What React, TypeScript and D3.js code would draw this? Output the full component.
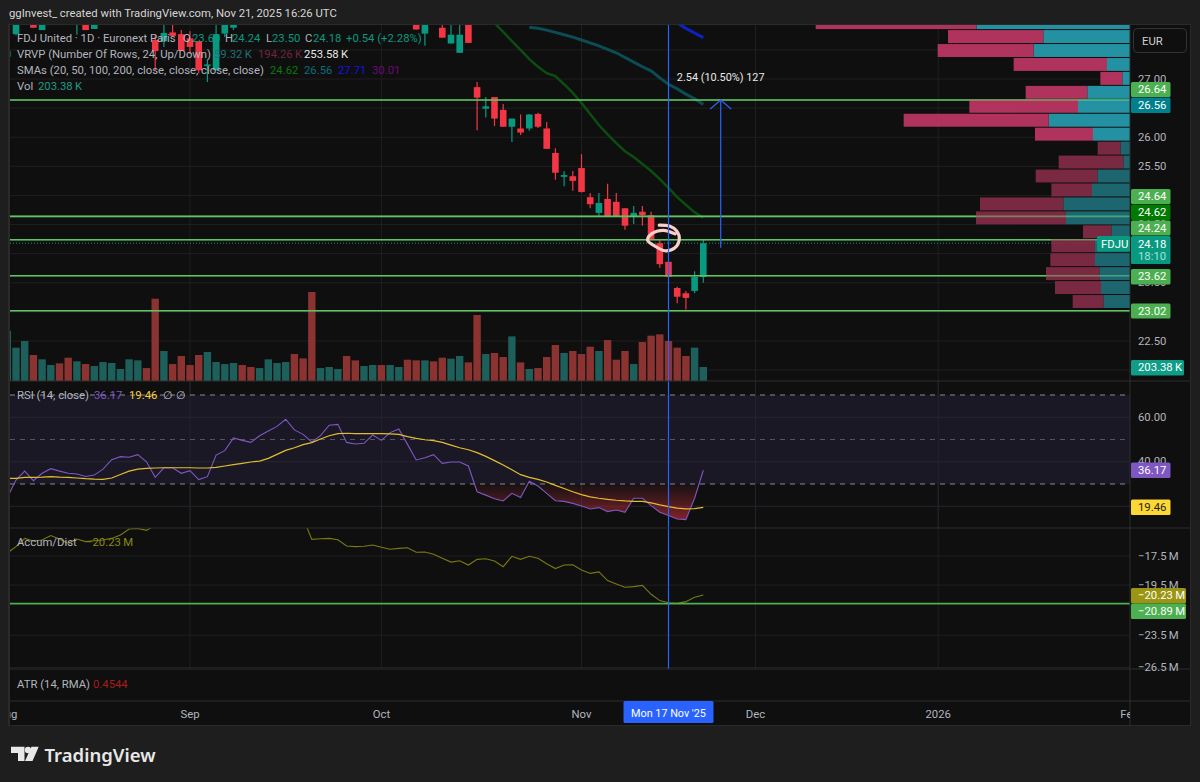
import React from 'react';
import * as d3 from 'd3';

const FONT = 'Roboto, "Noto Sans", sans-serif';

// bars are counted from 1 Aug 2025 (index 0), weekdays only
const LAST_BAR = 80;
const monthTicks = [0, 21, 43, 66, 86, 107, 129];
const monthLabels = ['Aug', 'Sep', 'Oct', 'Nov', 'Dec', '2026', 'Feb'];
const crosshairBar = 76;
const crosshairLabel = "Mon 17 Nov '25";

// only candles that reach into the visible part of the pane
const candleBars = [0, 1, 3, 4, 8, 9, 10, 17, 18, 19, 20, 21, 22, 23, 24, 25, 26, 47, 48, 50, 51, 52, 53, 54, 55, 56, 57, 58, 59, 60, 61, 62, 63, 64, 65, 66, 67, 68, 69, 70, 71, 72, 73, 74, 75, 76, 77, 78, 79, 80];
const opens = [27.38, 27.77, 28.1, 27.84, 28.0, 28.1, 27.86, 27.67, 27.65, 27.8, 27.77, 27.7, 27.65, 27.23, 27.15, 27.78, 27.88, 28.1, 27.78, 27.88, 27.61, 27.45, 28.0, 26.86, 26.49, 26.69, 26.47, 26.18, 26.15, 26.15, 26.4, 26.15, 25.73, 25.32, 25.33, 25.47, 24.97, 24.7, 24.94, 24.89, 24.78, 24.63, 24.72, 24.66, 24.18, 23.86, 23.41, 23.32, 23.36, 23.6];
const highs = [27.52, 28.2, 28.2, 28.1, 28.2, 28.2, 28.2, 27.75, 28.0, 27.95, 27.84, 27.82, 27.65, 27.34, 27.95, 28.2, 28.2, 28.2, 28.2, 28.0, 28.0, 28.0, 28.1, 26.95, 26.69, 26.69, 26.57, 26.32, 26.39, 26.4, 26.42, 26.26, 25.81, 25.42, 25.42, 25.71, 25.04, 25.04, 25.2, 25.04, 24.78, 24.82, 24.82, 24.72, 24.25, 23.86, 23.43, 23.36, 23.7, 24.24];
const lows = [27.36, 27.75, 27.88, 27.84, 27.76, 27.84, 27.86, 27.15, 27.55, 27.74, 27.48, 27.43, 27.1, 26.95, 27.15, 27.72, 27.84, 27.85, 27.57, 27.71, 27.61, 27.45, 27.62, 26.12, 26.34, 26.19, 26.18, 25.92, 26.04, 26.11, 26.16, 25.8, 25.27, 25.16, 25.08, 25.05, 24.78, 24.64, 24.63, 24.63, 24.41, 24.51, 24.48, 24.25, 23.76, 23.59, 23.15, 23.04, 23.32, 23.5];
const closes = [27.48, 28.1, 27.88, 28.1, 28.1, 27.84, 28.1, 27.48, 27.79, 27.74, 27.48, 27.55, 27.15, 27.25, 27.77, 28.1, 28.1, 27.85, 28.1, 27.71, 27.76, 27.76, 27.62, 26.68, 26.53, 26.32, 26.18, 26.32, 26.08, 26.39, 26.18, 25.8, 25.39, 25.35, 25.25, 25.06, 24.85, 24.87, 24.63, 24.64, 24.48, 24.7, 24.66, 24.25, 23.82, 23.6, 23.26, 23.24, 23.6, 24.18];

// volume in thousands, every bar
const volumes = [725, 483, 580, 377, 314, 232, 256, 338, 285, 246, 217, 275, 261, 174, 314, 299, 188, 1193, 435, 246, 362, 232, 377, 420, 275, 246, 261, 232, 203, 188, 314, 261, 275, 391, 328, 1290, 188, 203, 174, 362, 299, 217, 232, 232, 232, 203, 309, 299, 299, 285, 338, 324, 362, 270, 956, 391, 406, 348, 647, 270, 174, 188, 348, 522, 406, 435, 391, 497, 435, 594, 309, 435, 246, 565, 657, 676, 580, 483, 362, 483, 203.38];
const volumeUp = [1, 1, 1, 0, 1, 1, 0, 0, 1, 0, 1, 1, 1, 1, 1, 1, 0, 0, 1, 0, 0, 0, 0, 1, 1, 1, 1, 0, 0, 1, 1, 1, 1, 0, 0, 0, 1, 1, 1, 0, 0, 1, 1, 0, 1, 1, 0, 0, 1, 0, 0, 1, 1, 0, 0, 1, 0, 0, 1, 0, 1, 0, 0, 0, 1, 0, 0, 0, 1, 0, 0, 0, 1, 0, 0, 0, 0, 0, 0, 1, 1];

const sma20Start = 56;
const sma20 = [27.96, 27.81, 27.65, 27.5, 27.34, 27.21, 27.1, 27.05, 26.91, 26.76, 26.59, 26.4, 26.21, 26.05, 25.9, 25.76, 25.66, 25.54, 25.42, 25.28, 25.13, 24.97, 24.84, 24.71, 24.62];
const sma50Start = 60;
const sma50 = [27.89, 27.87, 27.84, 27.8, 27.76, 27.72, 27.67, 27.62, 27.57, 27.51, 27.45, 27.37, 27.29, 27.21, 27.14, 27.02, 26.91, 26.83, 26.74, 26.66, 26.56];
const sma100Start = 77;
const sma100 = [27.96, 27.87, 27.79, 27.71];

const levelLines = [26.64, 24.64, 24.24, 23.62, 23.02];
const lastClose = 24.18;
const priceTicks = [27.5, 27, 26.5, 26, 25.5, 25, 24.5, 24, 23.5, 23, 22.5, 22];

// visible range profile, top row first, widths as read
const profileLow = 23.05;
const profileStep = 0.2395;
const profileValueAreaRows = 9;
const profileUp = [460, 260, 289, 69, 23, 128, 156, 244, 111, 28, 20, 98, 114, 200, 192, 56, 105, 105, 92, 87, 80];
const profileDown = [483, 286, 288, 280, 66, 185, 326, 435, 174, 69, 194, 185, 122, 250, 270, 85, 131, 134, 160, 138, 92];

const measureBar = 82;
const measureFrom = 24.1;
const measureTo = 26.64;
const measureLabel = '2.54 (10.50%) 127';

// the hand drawn circle around the breakdown candle
const circleBars = [74.94, 76.17, 76.94, 77.24, 76.74, 75.6, 74.44, 73.6, 74.06, 75.4, 76.74];
const circlePrices = [24.49, 24.47, 24.39, 24.25, 24.1, 24.05, 24.13, 24.23, 24.34, 24.4, 24.34];

const rsi = [24, 31.8, 35.8, 31.5, 34.8, 36.9, 35.8, 34.8, 34.5, 33.4, 34.0, 36.7, 40.9, 42.3, 42.0, 43.2, 40.0, 33.0, 37.3, 37.3, 34.8, 36.0, 32.0, 33.3, 43.0, 45.0, 50.7, 49.6, 48.7, 51.7, 53.8, 55.9, 59.1, 54.3, 52.3, 48.9, 51.7, 56.4, 56.8, 48.7, 48.0, 48.3, 52.0, 49.6, 53.1, 54.7, 47.8, 40.8, 41.8, 43.2, 39.3, 39.9, 39.9, 38.1, 26.5, 25.0, 23.4, 22.4, 25.8, 23.9, 31.2, 29.1, 25.8, 22.5, 22.2, 21.3, 20.1, 18.8, 19.4, 17.6, 18.3, 17.3, 23.6, 23.6, 20.3, 17.3, 15.8, 14.3, 14.0, 23.6, 36.17];
const rsiMa = [32.5, 32.5, 33.0, 33.0, 33.1, 33.3, 33.1, 33.0, 32.7, 32.4, 32.2, 32.1, 32.7, 34.3, 35.8, 36.7, 37.0, 37.2, 37.3, 37.3, 37.3, 37.3, 37.2, 37.2, 37.5, 38.1, 38.7, 39.3, 39.9, 40.3, 41.5, 43.3, 45.1, 46.3, 47.7, 48.6, 50.2, 51.7, 52.6, 52.8, 52.6, 52.6, 52.6, 52.6, 52.5, 52.3, 51.3, 50.5, 49.9, 49.5, 48.7, 47.5, 46.3, 45.4, 44.1, 42.4, 40.5, 38.5, 36.4, 34.2, 33.0, 32.1, 30.9, 29.4, 28.0, 26.5, 25.2, 24.2, 23.6, 23.1, 22.7, 22.4, 22.2, 22.2, 21.5, 20.6, 19.8, 19.2, 18.8, 18.9, 19.46];
const rsiGrid = [60, 40, 20];
const rsiBands = [70, 30];

// accumulation/distribution, millions below zero; bars 17-34 run above the pane
const accDist = [17.3, 16.9, 16.39, 16.55, 16.49, 16.22, 16.43, 16.69, 16.43, 16.59, 16.53, 16.49, 16.39, 16.18, 15.83, 15.79, 15.91, 15.6, 15.4, 15.3, 15.2, 15.1, 15.0, 15.0, 14.9, 14.9, 14.8, 14.8, 14.9, 14.9, 15.0, 15.0, 15.1, 15.1, 15.2, 16.45, 16.41, 16.39, 16.47, 16.86, 16.9, 16.88, 16.8, 16.94, 17.07, 17.01, 16.97, 17.26, 17.24, 17.39, 17.65, 17.9, 17.81, 18.1, 17.72, 17.68, 17.83, 18.21, 17.52, 17.72, 17.52, 17.65, 18.01, 18.34, 18.1, 18.08, 18.44, 18.67, 18.57, 19.18, 19.42, 19.66, 19.61, 19.52, 20.18, 20.66, 20.82, 20.87, 20.74, 20.4, 20.23];
const accDistTicks = [17.5, 19.5, 23.5, 26.5];
const accDistLevel = 20.89;

const LEFT = 10;
const AXIS_X = 1130;
const RIGHT = 1190;
const PANE_TOP = 25;
const MAIN_BOTTOM = 381;
const RSI_BOTTOM = 528;
const AD_BOTTOM = 669;
const ATR_BOTTOM = 701;
const FRAME_BOTTOM = 725;

const COLORS = {
  page: '#1e1e1e',
  pane: '#0f0f0f',
  grid: '#1f1f1f',
  sep: '#2e2e2e',
  text: '#b2b5be',
  up: '#089981',
  down: '#f23645',
  level: '#4caf50',
  cross: '#2962ff',
};

const x = d3.scaleLinear().domain([0, LAST_BAR]).range([7.3, 703.3]);
const yPrice = d3.scaleLinear().domain([27, 22.5]).range([79, 341]);
const yVol = d3.scaleLinear().domain([0, 1290]).range([MAIN_BOTTOM, MAIN_BOTTOM - 89]);
const yRsi = d3.scaleLinear().domain([70, 30]).range([395, 484]);
const yAd = d3.scaleLog().domain([17.5, 26.5]).range([556, 667.5]);
const profileW = d3.scaleLinear().domain([0, 1]).range([0, 1 / 3]);

const priceLine = (start: number, values: number[]) =>
  d3.line<number>().x((_, i) => x(start + i)).y((d) => yPrice(d))(values) || '';

const rsiPath = (values: number[]) =>
  d3.line<number>().x((_, i) => x(i)).y((d) => yRsi(d))(values) || '';

const oversoldArea =
  d3.area<number>().x((_, i) => x(i)).y0(yRsi(30)).y1((d) => yRsi(d))(rsi) || '';

const adPath = d3.line<number>().x((_, i) => x(i)).y((d) => yAd(d))(accDist) || '';

const circlePath =
  d3.line<number>()
    .x((d) => x(d))
    .y((_, i) => yPrice(circlePrices[i]))
    .curve(d3.curveCatmullRom)(circleBars) || '';

function Label(props: { x: number; y: number; fill?: string; size?: number; anchor?: string; weight?: number; children: React.ReactNode }) {
  return (
    <text
      x={props.x}
      y={props.y}
      fill={props.fill || COLORS.text}
      fontSize={props.size || 11.3}
      textAnchor={props.anchor as any}
      fontWeight={props.weight}
      dominantBaseline="central"
    >
      {props.children}
    </text>
  );
}

function Tag(props: { top: number; bottom: number; width?: number; fill: string; text: string; color?: string }) {
  return (
    <g>
      <rect x={1131} y={props.top} width={props.width || 39.5} height={props.bottom - props.top} rx={1.5} fill={props.fill} />
      <Label x={1138} y={(props.top + props.bottom) / 2} fill={props.color || '#fff'}>
        {props.text}
      </Label>
    </g>
  );
}

export default function App() {
  const levels = levelLines.map((p) => yPrice(p));
  return (
    <>
      <style>{'body{margin:0;background:#1e1e1e}'}</style>
      <svg width={1200} height={782} style={{ display: 'block', fontFamily: FONT }}>
        <defs>
          <clipPath id="main"><rect x={LEFT} y={PANE_TOP} width={AXIS_X - LEFT} height={MAIN_BOTTOM - PANE_TOP} /></clipPath>
          <clipPath id="rsi"><rect x={LEFT} y={MAIN_BOTTOM} width={AXIS_X - LEFT} height={RSI_BOTTOM - MAIN_BOTTOM} /></clipPath>
          <clipPath id="oversold"><rect x={LEFT} y={yRsi(30)} width={AXIS_X - LEFT} height={RSI_BOTTOM - yRsi(30)} /></clipPath>
          <clipPath id="ad"><rect x={LEFT} y={RSI_BOTTOM} width={AXIS_X - LEFT} height={AD_BOTTOM - RSI_BOTTOM} /></clipPath>
          <clipPath id="time"><rect x={LEFT} y={ATR_BOTTOM} width={AXIS_X - LEFT} height={FRAME_BOTTOM - ATR_BOTTOM} /></clipPath>
          <linearGradient id="oversoldFill" gradientUnits="userSpaceOnUse" x1={0} x2={0} y1={yRsi(30)} y2={yRsi(10)}>
            <stop offset="0" stopColor="#8a2a33" stopOpacity={0.08} />
            <stop offset="1" stopColor="#a3252f" stopOpacity={1} />
          </linearGradient>
        </defs>

        <rect width={1200} height={782} fill={COLORS.page} />
        <rect x={8} y={PANE_TOP - 1} width={RIGHT - 7} height={FRAME_BOTTOM - PANE_TOP + 2} fill="#2a2a2a" />
        <rect x={LEFT} y={PANE_TOP} width={RIGHT - LEFT} height={FRAME_BOTTOM - PANE_TOP} fill={COLORS.pane} />

        <Label x={9} y={13} fill="#d6d6d6">ggInvest_ created with TradingView.com, Nov 21, 2025 16:26 UTC</Label>

        {/* grid */}
        {monthTicks.slice(1, 6).map((b) => (
          <line key={b} x1={x(b)} x2={x(b)} y1={PANE_TOP} y2={AD_BOTTOM} stroke={COLORS.grid} />
        ))}
        {priceTicks.map((p) => (
          <line key={p} x1={LEFT} x2={AXIS_X} y1={yPrice(p)} y2={yPrice(p)} stroke={COLORS.grid} />
        ))}

        {/* main pane */}
        <g clipPath="url(#main)">
          {volumes.map((v, i) => (
            <rect
              key={i}
              x={x(i) - 3.7}
              y={yVol(v)}
              width={7.4}
              height={MAIN_BOTTOM - yVol(v)}
              fill={volumeUp[i] ? '#1d5f5a' : '#8a3331'}
            />
          ))}
          <path d={priceLine(sma20Start, sma20)} fill="none" stroke="#0c4d10" strokeWidth={2.5} />
          <path d={priceLine(sma50Start, sma50)} fill="none" stroke="#0c4c54" strokeWidth={3} />
          <path d={priceLine(sma100Start, sma100)} fill="none" stroke="#0b22c4" strokeWidth={3} />
          {candleBars.map((b, i) => {
            const up = closes[i] >= opens[i];
            const c = up ? COLORS.up : COLORS.down;
            const top = yPrice(Math.max(opens[i], closes[i]));
            const bottom = yPrice(Math.min(opens[i], closes[i]));
            return (
              <g key={b}>
                <line x1={x(b)} x2={x(b)} y1={yPrice(highs[i])} y2={yPrice(lows[i])} stroke={c} strokeWidth={1.2} />
                <rect x={x(b) - 3.3} y={top} width={6.6} height={Math.max(bottom - top, 1.5)} fill={c} />
              </g>
            );
          })}
          {levels.map((y) => (
            <line key={y} x1={LEFT} x2={AXIS_X} y1={y} y2={y} stroke={COLORS.level} strokeWidth={1.6} />
          ))}
          <line x1={LEFT} x2={AXIS_X} y1={yPrice(lastClose)} y2={yPrice(lastClose)} stroke={COLORS.up} strokeDasharray="1 2" />
          {profileUp.map((u, i) => {
            const top = yPrice(profileLow + profileStep * (profileUp.length - i));
            const h = yPrice(profileLow + profileStep * (profileUp.length - i - 1)) - top - 1;
            const bright = i < profileValueAreaRows;
            const uw = profileW(u);
            const dw = profileW(profileDown[i]);
            return (
              <g key={i} opacity={0.85}>
                <rect x={AXIS_X - uw} y={top} width={uw} height={h} fill={bright ? '#27a8bc' : '#207680'} />
                <rect x={AXIS_X - uw - dw} y={top} width={dw} height={h} fill={bright ? '#cb3a6a' : '#8c2e4a'} />
              </g>
            );
          })}
          {levels.map((y) => (
            <line key={y} x1={LEFT} x2={AXIS_X} y1={y} y2={y} stroke="#7fdc84" strokeOpacity={0.4} strokeWidth={1.6} />
          ))}
          <path d={circlePath} fill="none" stroke="#f9cfca" strokeWidth={3.2} strokeLinecap="round" />
          <line x1={x(measureBar)} x2={x(measureBar)} y1={yPrice(measureFrom)} y2={yPrice(measureTo)} stroke={COLORS.cross} strokeWidth={1.2} />
          <path
            d={`M${x(measureBar) - 10.5},${yPrice(measureTo) + 9}L${x(measureBar)},${yPrice(measureTo)}L${x(measureBar) + 10.5},${yPrice(measureTo) + 9}`}
            fill="none"
            stroke={COLORS.cross}
            strokeWidth={1.2}
          />
        </g>
        <Label x={x(measureBar)} y={77} fill="#e8e8e8" size={10.9} anchor="middle">{measureLabel}</Label>

        {/* legend of the main pane */}
        <g>
          <Label x={17} y={38}>FDJ United · 1D · Euronext Paris</Label>
          <Label x={183} y={38}>O</Label>
          <Label x={192} y={38} fill={COLORS.up}>23.60</Label>
          <Label x={225} y={38}>H</Label>
          <Label x={232} y={38} fill={COLORS.up}>24.24</Label>
          <Label x={266} y={38}>L</Label>
          <Label x={272} y={38} fill={COLORS.up}>23.50</Label>
          <Label x={305} y={38}>C</Label>
          <Label x={313} y={38} fill={COLORS.up}>24.18</Label>
          <Label x={346} y={38} fill={COLORS.up}>+0.54 (+2.28%)</Label>
          <Label x={17} y={54}>VRVP (Number Of Rows, 24, Up/Down)</Label>
          <Label x={214} y={54} fill="#1f6f7a">59.32{'\u2009'}K</Label>
          <Label x={258} y={54} fill="#6e2540">194.26{'\u2009'}K</Label>
          <Label x={304} y={54} fill="#e8e8e8">253.58{'\u2009'}K</Label>
          <Label x={17} y={70}>SMAs (20, 50, 100, 200, close, close, close, close)</Label>
          <Label x={270} y={70} fill="#0a7a0a">24.62</Label>
          <Label x={304} y={70} fill="#0a6f7a">26.56</Label>
          <Label x={338} y={70} fill="#1414e0">27.71</Label>
          <Label x={372} y={70} fill="#6a0a7a">30.01</Label>
          <Label x={17} y={86}>Vol</Label>
          <Label x={38} y={86} fill="#1f9a85">203.38{'\u2009'}K</Label>
        </g>

        {/* RSI pane */}
        <g clipPath="url(#rsi)">
          <rect x={LEFT} y={yRsi(70)} width={AXIS_X - LEFT} height={yRsi(30) - yRsi(70)} fill="#1a1825" />
          {rsiGrid.map((v) => (
            <line key={v} x1={LEFT} x2={AXIS_X} y1={yRsi(v)} y2={yRsi(v)} stroke="#262530" />
          ))}
          {monthTicks.slice(1, 6).map((b) => (
            <line key={b} x1={x(b)} x2={x(b)} y1={MAIN_BOTTOM} y2={RSI_BOTTOM} stroke="#24232d" />
          ))}
          <line x1={LEFT} x2={AXIS_X} y1={yRsi(50)} y2={yRsi(50)} stroke="#55555f" strokeDasharray="5 5" />
          {rsiBands.map((v) => (
            <line key={v} x1={LEFT} x2={AXIS_X} y1={yRsi(v)} y2={yRsi(v)} stroke="#8a8a92" strokeDasharray="5 5" />
          ))}
          <path d={oversoldArea} fill="url(#oversoldFill)" clipPath="url(#oversold)" />
          <path d={rsiPath(rsi)} fill="none" stroke="#7e57c2" strokeWidth={1.1} />
          <path d={rsiPath(rsiMa)} fill="none" stroke="#e3bd2d" strokeWidth={1.2} />
        </g>
        <g>
          <Label x={17} y={395}>RSI (14, close)</Label>
          <Label x={94} y={395} fill="#7e57c2">36.17</Label>
          <Label x={129} y={395} fill="#f7d13a">19.46</Label>
          <Label x={163} y={395}>∅</Label>
          <Label x={176} y={395}>∅</Label>
        </g>

        {/* accumulation/distribution pane */}
        {accDistTicks.map((v) => (
          <line key={v} x1={LEFT} x2={AXIS_X} y1={yAd(v)} y2={yAd(v)} stroke={COLORS.grid} />
        ))}
        <g clipPath="url(#ad)">
          <path d={adPath} fill="none" stroke="#7a7a12" strokeWidth={1.1} />
          <line x1={LEFT} x2={AXIS_X} y1={yAd(accDistLevel)} y2={yAd(accDistLevel)} stroke={COLORS.level} strokeWidth={1.6} />
        </g>
        <Label x={17} y={542}>Accum/Dist</Label>
        <Label x={86} y={542} fill="#8a8a10">−20.23{'\u2009'}M</Label>

        <Label x={17} y={684}>ATR (14, RMA)</Label>
        <Label x={93} y={684} fill="#a51c1c">0.4544</Label>

        {/* crosshair */}
        <line x1={x(crosshairBar)} x2={x(crosshairBar)} y1={PANE_TOP} y2={AD_BOTTOM} stroke={COLORS.cross} strokeWidth={1.2} />

        {/* pane separators and right axis */}
        <rect x={AXIS_X} y={PANE_TOP} width={RIGHT - AXIS_X} height={AD_BOTTOM - PANE_TOP} fill={COLORS.pane} />
        {[MAIN_BOTTOM, RSI_BOTTOM, AD_BOTTOM, ATR_BOTTOM].map((y) => (
          <line key={y} x1={LEFT} x2={RIGHT} y1={y} y2={y} stroke={COLORS.sep} />
        ))}
        <line x1={AXIS_X} x2={AXIS_X} y1={PANE_TOP} y2={FRAME_BOTTOM} stroke={COLORS.sep} />

        {priceTicks.map((p) => (
          <Label key={p} x={1138} y={yPrice(p)}>{d3.format('.2f')(p)}</Label>
        ))}
        {rsiGrid.slice(0, 2).map((v) => (
          <Label key={v} x={1138} y={yRsi(v)}>{d3.format('.2f')(v)}</Label>
        ))}
        {accDistTicks.map((v) => (
          <Label key={v} x={1138} y={yAd(v)}>{`−${d3.format('.1f')(v)}\u2009M`}</Label>
        ))}

        <rect x={1133.5} y={28.5} width={53} height={24} rx={4} fill={COLORS.pane} stroke="#333" />
        <Label x={1142} y={41} fill="#d0d0d0">EUR</Label>

        <Tag top={82} bottom={97} fill="#4caf50" text="26.64" />
        <Tag top={97.5} bottom={113} fill="#00808c" text="26.56" />
        <Tag top={189} bottom={204} fill="#4caf50" text="24.64" />
        <Tag top={204.5} bottom={220} fill="#007a00" text="24.62" />
        <Tag top={220.5} bottom={235.5} fill="#4caf50" text="24.24" />
        <rect x={1097} y={236} width={33} height={15.5} rx={1.5} fill={COLORS.up} />
        <Label x={1101} y={244} fill="#fff">FDJU</Label>
        <rect x={1131} y={236} width={39.5} height={28} rx={1.5} fill={COLORS.up} />
        <Label x={1138} y={244} fill="#fff">24.18</Label>
        <Label x={1138} y={256.5} fill="#a8e0d6">18:10</Label>
        <Tag top={269} bottom={284.5} fill="#4caf50" text="23.62" />
        <Tag top={303.5} bottom={318.5} fill="#4caf50" text="23.02" />
        <Tag top={360} bottom={375.5} width={53} fill="#0f9d88" text={'203.38\u2009K'} />
        <Tag top={462.5} bottom={478} fill="#7e57c2" text="36.17" />
        <Tag top={499.5} bottom={515} fill="#fdd835" text="19.46" color="#222" />
        <Tag top={588} bottom={603.5} width={55} fill="#9a9512" text={'−20.23\u2009M'} />
        <Tag top={603.5} bottom={619} width={55} fill="#4caf50" text={'−20.89\u2009M'} />

        {/* time axis */}
        <g clipPath="url(#time)">
          {monthTicks.map((b, i) => (
            <Label key={b} x={x(b)} y={714} anchor="middle">{monthLabels[i]}</Label>
          ))}
        </g>
        <rect x={x(crosshairBar) - 45} y={701} width={90} height={22} rx={1.5} fill={COLORS.cross} />
        <Label x={x(crosshairBar)} y={713.5} fill="#fff" size={10.8} anchor="middle">{crosshairLabel}</Label>

        {/* logo */}
        <g fill="#e8e8e8">
          <path d="M11,746.7H24.5V761H18V753H11Z" />
          <circle cx={28} cy={750} r={3.2} />
          <path d="M31.5,746.7H38.7L32.5,761H25Z" />
        </g>
        <text x={44.5} y={754} fill="#e8e8e8" fontSize={18.5} fontWeight={600} fontFamily='"Noto Sans", sans-serif' dominantBaseline="central">TradingView</text>
      </svg>
    </>
  );
}
